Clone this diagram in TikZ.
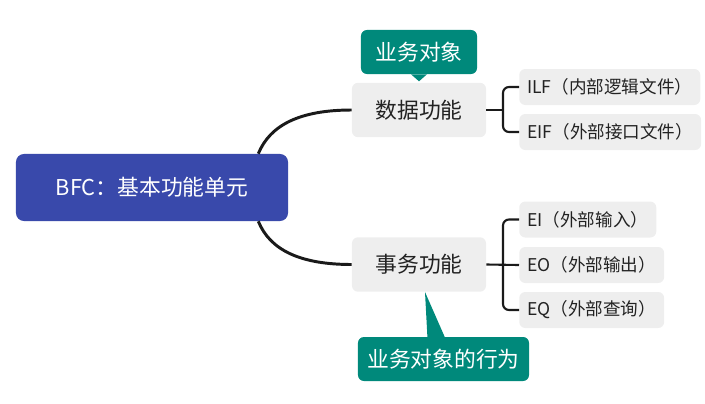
\documentclass[tikz,border=0pt]{standalone}
\usepackage{fontspec}
\setmainfont{Noto Sans CJK SC}
\definecolor{bfcRoot}{RGB}{57,73,171}
\definecolor{bfcTag}{RGB}{0,137,123}
\definecolor{bfcBox}{RGB}{238,238,238}
\definecolor{bfcText}{RGB}{34,34,34}
\definecolor{bfcLine}{RGB}{26,26,26}

\begin{document}
\begin{tikzpicture}[x=.025cm,y=-.025cm,
      root/.style={fill=bfcRoot, text=white, rounded corners=.2cm,
        minimum width=6.8cm, minimum height=1.675cm,
        font=\fontsize{15.5}{18}\selectfont},
      topic/.style={fill=bfcBox, text=bfcText, rounded corners=.15cm,
        minimum width=3.35cm, minimum height=1.36cm,
        font=\fontsize{15.5}{18}\selectfont},
      leaf/.style={fill=bfcBox, text=bfcText, rounded corners=.15cm,
        anchor=west, inner xsep=.2cm, minimum height=.9cm,
        font=\fontsize{12.5}{15}\selectfont},
      tag/.style={fill=bfcTag, text=white, rounded corners=.15cm,
        minimum height=1.1cm, inner xsep=.2cm,
        font=\fontsize{15.5}{18}\selectfont},
      branch/.style={draw=bfcLine, line width=2.1pt},
      fork/.style={draw=bfcLine, line width=1.5pt, rounded corners=.15cm}]
      \useasboundingbox (0,0) rectangle (705,403);

      \node[root] (root) at (152,187.5) {BFC：基本功能单元};
      \node[topic] (data) at (419,110) {数据功能};
      \node[topic] (trans) at (419,264.5) {事务功能};

      \node[leaf] (ilf) at (519,87) {ILF（内部逻辑文件）};
      \node[leaf] (eif) at (519,132) {EIF（外部接口文件）};
      \node[leaf] (ei) at (519,219.5) {EI（外部输入）};
      \node[leaf] (eo) at (519,265) {EO（外部输出）};
      \node[leaf] (eq) at (519,310) {EQ（外部查询）};

      \node[tag, minimum width=2.9cm] (obj) at (419,52) {业务对象};
      \node[tag, minimum width=4.275cm] (act) at (443.5,359) {业务对象的行为};

      % callout pointers
      \fill[bfcTag] ([xshift=-.2cm]obj.south) -- ([yshift=.03cm]data.north)
        -- ([xshift=.2cm]obj.south) -- cycle;
      \fill[bfcTag] ([xshift=-.4cm,yshift=-.05cm]act.north)
        -- ([xshift=.15cm]trans.south)
        -- ([xshift=.05cm,yshift=-.05cm]act.north) -- cycle;

      % branches from the root
      \draw[branch] ([xshift=-.75cm]root.north east)
        .. controls (270,125) and (300,110) .. (data.west);
      \draw[branch] ([xshift=-.75cm]root.south east)
        .. controls (270,250) and (300,264.5) .. (trans.west);

      \coordinate (dfork) at (503,110);
      \coordinate (tfork) at (503,265);
      \draw[fork] (data.east) -- (dfork);
      \draw[fork] (ilf.west) -| (dfork) |- (eif.west);
      \draw[fork] (trans.east) -- (eo.west);
      \draw[fork] (ei.west) -| (tfork) |- (eq.west);
    \end{tikzpicture}
\end{document}
